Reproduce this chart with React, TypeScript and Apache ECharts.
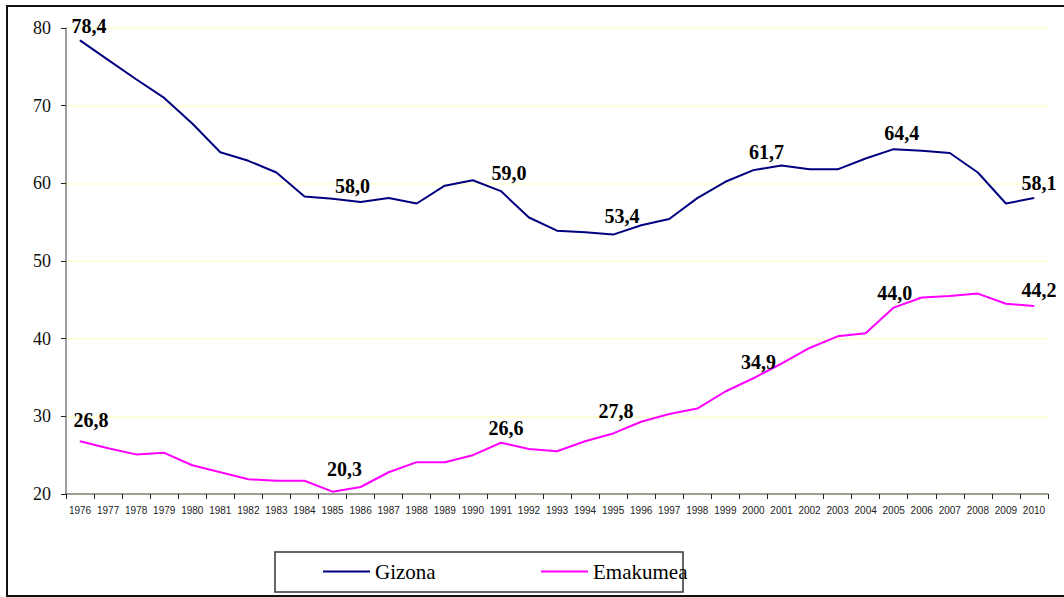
import React, { useEffect, useRef } from "react";
import * as echarts from "echarts";

const years = [
  "1976","1977","1978","1979","1980","1981","1982","1983","1984","1985",
  "1986","1987","1988","1989","1990","1991","1992","1993","1994","1995",
  "1996","1997","1998","1999","2000","2001","2002","2003","2004","2005",
  "2006","2007","2008","2009","2010",
];

const gizona = [
  78.4, 75.9, 73.4, 71.0, 67.7, 64.0, 62.9, 61.4, 58.3, 58.0,
  57.6, 58.1, 57.4, 59.7, 60.4, 59.0, 55.6, 53.9, 53.7, 53.4,
  54.6, 55.4, 58.1, 60.2, 61.7, 62.3, 61.8, 61.8, 63.2, 64.4,
  64.2, 63.9, 61.4, 57.4, 58.1,
];

const emakumea = [
  26.8, 25.9, 25.1, 25.3, 23.7, 22.8, 21.9, 21.7, 21.7, 20.3,
  20.9, 22.8, 24.1, 24.1, 25.0, 26.6, 25.8, 25.5, 26.8, 27.8,
  29.3, 30.3, 31.0, 33.2, 34.9, 36.8, 38.8, 40.3, 40.7, 44.0,
  45.3, 45.5, 45.8, 44.5, 44.2,
];

const labeledYears = ["1976", "1985", "1991", "1995", "2000", "2005", "2010"];

const seriesNames = ["Gizona", "Emakumea"];
const yTicks = { min: 20, max: 80, interval: 10 };

// label placement tweaks (style only): [dx, height of label centre above point]
const gizonaShift: Record<string, [number, number]> = {
  "1976": [9, 14], "1985": [20, 12], "1991": [8, 18], "1995": [9, 18],
  "2000": [13, 18], "2005": [8, 16], "2010": [5, 15],
};
const emakumeaShift: Record<string, [number, number]> = {
  "1976": [11, 21], "1985": [12, 22], "1991": [5, 14], "1995": [3, 22],
  "2000": [5, 16], "2005": [1, 14], "2010": [5, 16],
};

const SERIF = "Liberation Serif";
const SANS = "Liberation Sans";

function buildData(values: number[], shift: Record<string, [number, number]>) {
  return values.map((v, i) => {
    const y = years[i];
    const show = labeledYears.includes(y);
    const s = shift[y] || [0, 0];
    return {
      value: v,
      label: show
        ? { show: true, offset: [s[0], 10 - s[1]] }
        : { show: false },
    };
  });
}

export default function App() {
  const ref = useRef<HTMLDivElement>(null);

  useEffect(() => {
    document.body.style.margin = "0";
    document.body.style.overflow = "hidden";
    if (!ref.current) return;
    const chart = echarts.init(ref.current, undefined, { renderer: "svg" });

    const labelStyle = {
      position: "top",
      distance: 0,
      fontFamily: SERIF,
      fontWeight: "bold",
      fontSize: 20,
      color: "#000",
      formatter: (p: any) => Number(p.value).toFixed(1).replace(".", ","),
    };

    chart.setOption({
      animation: false,
      backgroundColor: "#ffffff",
      textStyle: { fontFamily: SERIF },
      grid: { left: 66, right: 16, top: 28, bottom: 103, containLabel: false },
      legend: [
        {
          data: [seriesNames[0]],
          left: 323,
          top: 561,
          padding: 0,
          icon: "rect",
          itemWidth: 47,
          itemHeight: 2,
          textStyle: { fontFamily: SERIF, fontSize: 21, color: "#000" },
        },
        {
          data: [seriesNames[1]],
          left: 541,
          top: 561,
          padding: 0,
          icon: "rect",
          itemWidth: 47,
          itemHeight: 2,
          textStyle: { fontFamily: SERIF, fontSize: 21, color: "#000" },
        },
      ],
      graphic: [
        {
          type: "rect",
          z: -10,
          shape: { x: 7, y: 6, width: 1070, height: 590 },
          style: { fill: "none", stroke: "#111", lineWidth: 2 },
          silent: true,
        },
        {
          type: "rect",
          z: -5,
          shape: { x: 275, y: 552, width: 408, height: 40 },
          style: { fill: "none", stroke: "#333", lineWidth: 1.5 },
          silent: true,
        },
      ],
      xAxis: {
        type: "category",
        data: years,
        boundaryGap: true,
        axisLine: { lineStyle: { color: "#7f7f7f", width: 1.5 } },
        axisTick: {
          show: true,
          interval: 0,
          length: 5,
          lineStyle: { color: "#222", width: 1 },
        },
        axisLabel: {
          interval: 0,
          margin: 11,
          fontFamily: SANS,
          fontSize: 10,
          color: "#222",
        },
        splitLine: { show: false },
      },
      yAxis: {
        type: "value",
        min: yTicks.min,
        max: yTicks.max,
        interval: yTicks.interval,
        axisLine: { show: true, lineStyle: { color: "#7f7f7f", width: 1.5 } },
        axisTick: { show: true, length: 5, lineStyle: { color: "#222", width: 1 } },
        axisLabel: {
          margin: 15,
          fontFamily: SERIF,
          fontSize: 18,
          color: "#111",
        },
        splitLine: { show: true, lineStyle: { color: "#ffffcc", width: 1.5 } },
      },
      series: [
        {
          name: seriesNames[0],
          type: "line",
          data: buildData(gizona, gizonaShift),
          symbol: "circle",
          symbolSize: 1,
          showSymbol: true,
          color: "#000080",
          itemStyle: { color: "#000080" },
          lineStyle: { color: "#000080", width: 2 },
          label: labelStyle,
          z: 3,
        },
        {
          name: seriesNames[1],
          type: "line",
          data: buildData(emakumea, emakumeaShift),
          symbol: "circle",
          symbolSize: 1,
          showSymbol: true,
          color: "#ff00ff",
          itemStyle: { color: "#ff00ff" },
          lineStyle: { color: "#ff00ff", width: 2 },
          label: labelStyle,
          z: 3,
        },
      ],
    });

    return () => chart.dispose();
  }, []);

  return <div ref={ref} style={{ width: 1064, height: 597 }} />;
}
